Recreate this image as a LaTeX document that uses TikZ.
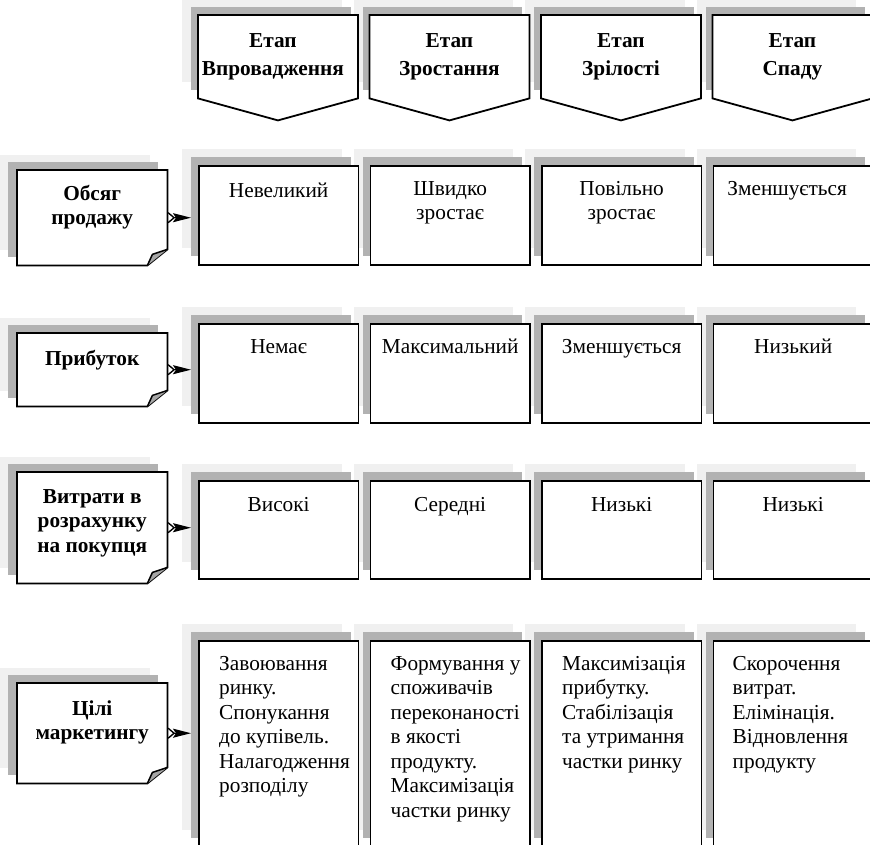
\documentclass[tikz,border=0pt]{standalone}
\usepackage{fontspec}
\setmainfont{Liberation Serif}
\usetikzlibrary{arrows.meta,calc}
\newcommand\fstrut{\rule{0pt}{20pt}}
\tikzset{
  lightsh/.style={fill=black!6, draw=none, inner sep=0pt, anchor=north west},
  darksh/.style={fill=black!30, draw=none, inner sep=0pt, anchor=north west},
  boxw/.style={draw=black, line width=1.8pt, fill=white},
  frame/.style={draw=none, inner sep=0pt, anchor=north west},
  ctext/.style={font=\fontsize{21.3}{24.5}\selectfont, align=center, inner sep=0pt, anchor=north},
  ltext/.style={font=\fontsize{21.3}{24.5}\selectfont, align=left, inner sep=0pt, anchor=north west},
  htext/.style={font=\bfseries\fontsize{21.3}{28}\selectfont, align=center, inner sep=0pt, anchor=north},
  btext/.style={font=\bfseries\fontsize{21.3}{24.5}\selectfont, align=center, inner sep=0pt, anchor=north},
  conn/.style={line width=1.4pt, {Straight Barb[reversed,length=6pt,width=10pt]}-{Stealth[length=18pt,width=9pt,inset=3pt]}},
}
\begin{document}
\begin{tikzpicture}[x=1pt,y=-1pt]
\useasboundingbox (0,0) rectangle (870,844);
\clip (0,0) rectangle (870,844);
% ---------- shadows of columns (header + 4 rows)
\foreach \r/\y/\h in {0/15/83,1/165/99,2/323/99,3/480/98,4/640/206}{
  \foreach \c/\x in {1/198,2/369.5,3/541,4/712.5}{
    \node[lightsh, minimum width=159.5pt, minimum height=\h pt] (S\r\c) at (\x-16,\y-16) {};
    \node[darksh, minimum width=159.5pt, minimum height=\h pt] (D\r\c) at (\x-7,\y-8) {};
  }
}
% ---------- shadows of labels
\foreach \r/\y/\h in {1/170/95,2/333/73,3/472/111,4/683/100}{
  \node[lightsh, minimum width=150pt, minimum height=\h pt] (LS\r) at (0,\y-15) {};
  \node[darksh, minimum width=150pt, minimum height=\h pt] (LD\r) at (8,\y-8) {};
}
% ---------- header boxes
\foreach \c/\x in {1/198,2/369.5,3/541,4/712.5}{
  \node[frame, minimum width=159.5pt, minimum height=83pt] (H\c) at (\x,15) {};
  \draw[boxw, line join=miter] (H\c.north west) -- (H\c.north east) -- (H\c.south east)
     -- ($(H\c.south)+(0,22)$) -- (H\c.south west) -- cycle;
}
% ---------- content boxes
\foreach \r/\y/\h in {1/165/99,2/323/99,3/480/98,4/640/206}{
  \foreach \c/\x in {1/198,2/369.5,3/541,4/712.5}{
    \node[boxw, inner sep=0pt, anchor=north west, minimum width=159.5pt, minimum height=\h pt] (B\r\c) at (\x,\y) {};
  }
}
% ---------- label boxes (folded corner)
\foreach \r/\y/\h in {1/170/95,2/333/73,3/472/111,4/683/100}{
  \node[frame, minimum width=150pt, minimum height=\h pt] (L\r) at (17,\y) {};
  \draw[boxw, line join=miter] (L\r.north west) -- (L\r.north east) -- ($(L\r.south east)+(0,-16)$)
     -- ($(L\r.south east)+(-20,0)$) -- (L\r.south west) -- cycle;
  \draw[line width=1.5pt, fill=black!35, line join=round] ($(L\r.south east)+(-20,0)$) -- ($(L\r.south east)+(-15,-11)$)
     -- ($(L\r.south east)+(0,-16)$);
}
% ---------- header texts
\node[htext] (HT1) at ($(H1.north)+(-5,12)$) {\fstrut Етап\\Впровадження};
\node[htext] (HT2) at ($(H2.north)+(0,12)$) {\fstrut Етап\\Зростання};
\node[htext] (HT3) at ($(H3.north)+(0,12)$) {\fstrut Етап\\Зрілості};
\node[htext] (HT4) at ($(H4.north)+(0,12)$) {\fstrut Етап\\Спаду};
% ---------- label texts
\node[btext] (LT1) at ($(L1.north)+(0,10)$) {\fstrut Обсяг\\продажу};
\node[btext] (LT2) at ($(L2.north)+(0,12)$) {\fstrut Прибуток};
\node[btext] (LT3) at ($(L3.north)+(0,11)$) {\fstrut Витрати в\\розрахунку\\на покупця};
\node[btext] (LT4) at ($(L4.north)+(0,12)$) {\fstrut Цілі\\маркетингу};
% ---------- row 1
\node[ctext] (T11) at ($(B11.north)+(0,12)$) {\fstrut Невеликий};
\node[ctext] (T12) at ($(B12.north)+(0,10)$) {\fstrut Швидко\\зростає};
\node[ctext] (T13) at ($(B13.north)+(0,10)$) {\fstrut Повільно\\зростає};
\node[ctext] (T14) at ($(B14.north)+(-6,10)$) {\fstrut Зменшується};
% ---------- row 2
\node[ctext] (T21) at ($(B21.north)+(0,10)$) {\fstrut Немає};
\node[ctext] (T22) at ($(B22.north)+(0,10)$) {\fstrut Максимальний};
\node[ctext] (T23) at ($(B23.north)+(0,10)$) {\fstrut Зменшується};
\node[ctext] (T24) at ($(B24.north)+(0,10)$) {\fstrut Низький};
% ---------- row 3
\node[ctext] (T31) at ($(B31.north)+(0,11)$) {\fstrut Високі};
\node[ctext] (T32) at ($(B32.north)+(0,11)$) {\fstrut Середні};
\node[ctext] (T33) at ($(B33.north)+(0,11)$) {\fstrut Низькі};
\node[ctext] (T34) at ($(B34.north)+(0,11)$) {\fstrut Низькі};
% ---------- row 4
\node[ltext] (T41) at ($(B41.north west)+(21,10)$) {\fstrut Завоювання\\ринку.\\Спонукання\\до купівель.\\Налагодження\\розподілу};
\node[ltext] (T42) at ($(B42.north west)+(21,10)$) {\fstrut Формування у\\споживачів\\переконаності\\в якості\\продукту.\\Максимізація\\частки ринку};
\node[ltext] (T43) at ($(B43.north west)+(21,10)$) {\fstrut Максимізація\\прибутку.\\Стабілізація\\та утримання\\частки ринку};
\node[ltext] (T44) at ($(B44.north west)+(20,10)$) {\fstrut Скорочення\\витрат.\\Елімінація.\\Відновлення\\продукту};
% ---------- connectors
\foreach \r in {1,2,3,4}{
  \draw[conn] (L\r.east) -- (L\r.east -| D\r1.west);
}
\end{tikzpicture}
\end{document}
